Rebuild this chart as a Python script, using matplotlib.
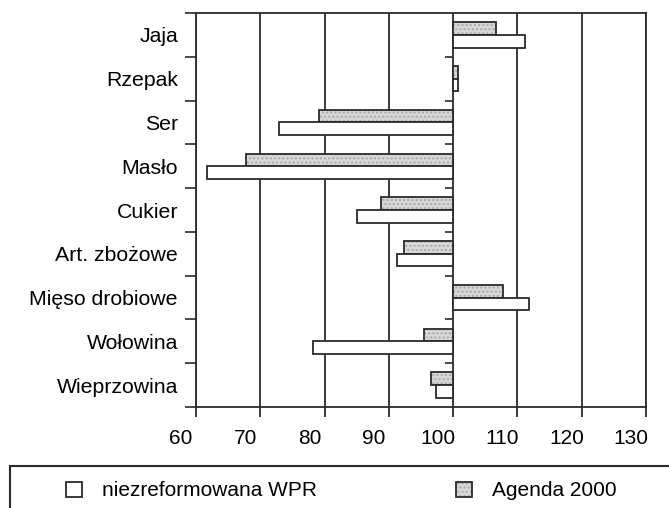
import numpy as np
import matplotlib
matplotlib.use("Agg")
import matplotlib.pyplot as plt
import matplotlib.transforms as mtransforms
from matplotlib.patches import Rectangle

plt.rcParams['font.family'] = ['Liberation Sans', 'DejaVu Sans']

# dane (wskaznik, 100 = poziom bazowy)
kategorie = ['Jaja', 'Rzepak', 'Ser', 'Masło', 'Cukier', 'Art. zbożowe',
             'Mięso drobiowe', 'Wołowina', 'Wieprzowina']
agenda = [106.7, 100.7, 79.1, 67.7, 88.8, 92.3, 107.7, 95.4, 96.6]
wpr = [111.2, 100.7, 72.9, 61.7, 85.1, 91.3, 111.8, 78.2, 97.4]
xticks = [60, 70, 80, 90, 100, 110, 120, 130]
baza = 100

W, H = 669, 508
fig = plt.figure(figsize=(W / 100, H / 100), dpi=100)
ax = fig.add_axes([196 / W, 1 - 407 / H, 450 / W, 394 / H])

y = np.arange(len(kategorie))
h = 0.29
ciemny = '#2a2a2a'

# siatka pionowa
for xv in xticks:
    ax.axvline(xv, color=ciemny, lw=1.3, zorder=1)

# Agenda 2000 - szare, kropkowane
b_ag = ax.barh(y - h / 2, np.array(agenda) - baza, left=baza, height=h,
               color='#d8d8d8', edgecolor='#a8a8a8', hatch='....', lw=0, zorder=2)
b_ag_o = ax.barh(y - h / 2, np.array(agenda) - baza, left=baza, height=h,
                 fill=False, edgecolor=ciemny, lw=1.3, zorder=3)
# niezreformowana WPR - biale
b_wpr = ax.barh(y + h / 2, np.array(wpr) - baza, left=baza, height=h,
                color='white', edgecolor=ciemny, lw=1.3, zorder=3)

# os kategorii przy 100
granice = np.arange(len(kategorie) + 1) - 0.5
ax.hlines(granice[1:-1], baza - 1.3, baza, color=ciemny, lw=1.2, zorder=4)

ax.set_xlim(60, 130)
ax.set_ylim(len(kategorie) - 0.5, -0.5)
ax.set_xticks(xticks)
ax.set_yticks(y)
ax.set_yticklabels(kategorie, fontsize=15.3)
ax.set_yticks(granice, minor=True)
ax.tick_params(axis='y', which='major', length=0, pad=13)
ax.tick_params(axis='y', which='minor', length=8, width=1.2, color=ciemny)
ax.tick_params(axis='x', length=7, width=1.3, color=ciemny, labelsize=15, pad=9)
for lab in ax.get_xticklabels():
    lab.set_transform(lab.get_transform() +
                      mtransforms.ScaledTranslation(-0.15, 0, fig.dpi_scale_trans))
for s in ax.spines.values():
    s.set_color(ciemny)
    s.set_linewidth(1.3)

# legenda
fig.patches.append(Rectangle((10 / W, -0.1), 1.0, (1 - 466 / H) + 0.1,
                             transform=fig.transFigure, fill=False,
                             edgecolor=ciemny, lw=1.5, clip_on=False))
opcje = dict(frameon=False, loc='center left', borderpad=0, borderaxespad=0,
             fontsize=15, handlelength=0.77, handleheight=0.75, handletextpad=0.95)
fig.legend([b_wpr], ['niezreformowana WPR'],
           bbox_to_anchor=(66 / W, 1 - 491 / H), **opcje)
fig.legend([(b_ag, b_ag_o)], ['Agenda 2000'],
           bbox_to_anchor=(456 / W, 1 - 491 / H), **opcje)

fig.savefig('out.png', dpi=100)
